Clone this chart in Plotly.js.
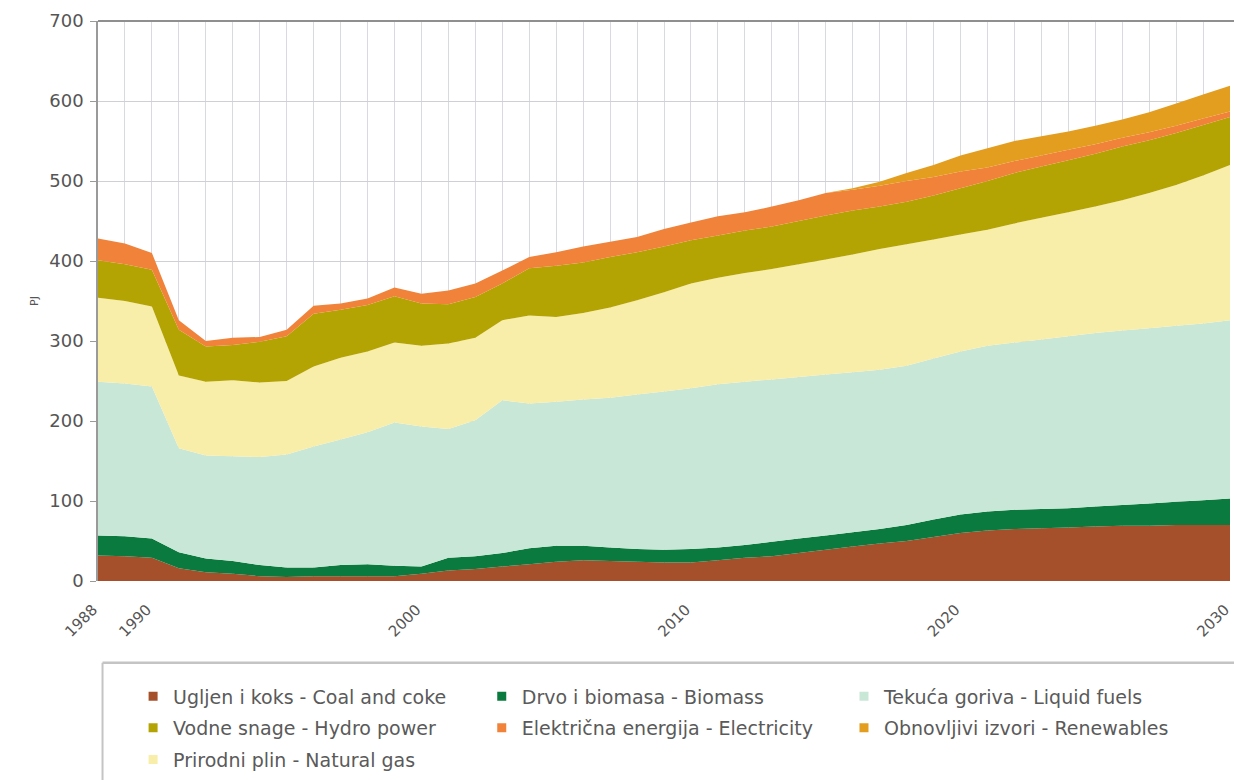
<!DOCTYPE html>
<html>
<head>
<meta charset="utf-8">
<script src="https://cdn.plot.ly/plotly-3.0.1.min.js"></script>
<style>
  html, body { margin: 0; padding: 0; background: #ffffff; }
  #chart { width: 1234px; height: 780px; }
</style>
</head>
<body>
<div id="chart"></div>
<script>
// Final energy demand by source, PJ (stacked, bottom to top)
const years = [1988, 1989, 1990, 1991, 1992, 1993, 1994, 1995, 1996, 1997,
               1998, 1999, 2000, 2001, 2002, 2003, 2004, 2005, 2006, 2007,
               2008, 2009, 2010, 2011, 2012, 2013, 2014, 2015, 2016, 2017,
               2018, 2019, 2020, 2021, 2022, 2023, 2024, 2025, 2026, 2027,
               2028, 2029, 2030];

const coal = [32, 31, 29, 16, 11, 9, 6, 5, 6, 6,
              6, 6, 9, 13, 15, 18, 21, 24, 26, 25,
              24, 23, 23, 26, 29, 31, 35, 39, 43, 47,
              50, 55, 60, 63, 65, 66, 67, 68, 69, 69,
              70, 70, 70];

const biomass = [25, 25, 24, 20, 17, 16, 14, 12, 11, 14,
                 15, 13, 9, 16, 16, 17, 20, 20, 18, 17,
                 16, 16, 17, 16, 16, 18, 18, 18, 18, 18,
                 20, 22, 23, 24, 24, 24, 24, 25, 26, 28,
                 29, 31, 33];

const liquidFuels = [192, 191, 190, 130, 129, 131, 135, 141, 151, 157,
                     165, 179, 175, 161, 170, 191, 181, 180, 183, 187,
                     193, 198, 201, 204, 204, 203, 202, 201, 200, 199,
                     199, 201, 204, 207, 209, 212, 215, 217, 218, 219,
                     220, 221, 223];

const naturalGas = [105, 103, 100, 91, 92, 95, 93, 92, 100, 102,
                    101, 100, 101, 107, 103, 100, 110, 106, 108, 113,
                    118, 124, 131, 133, 136, 138, 141, 144, 147, 151,
                    152, 149, 146, 145, 149, 152, 155, 158, 163, 169,
                    176, 185, 194];

const hydroPower = [47, 46, 46, 57, 44, 44, 51, 56, 66, 60,
                    58, 58, 53, 49, 51, 46, 59, 64, 63, 63,
                    60, 57, 54, 53, 53, 53, 54, 55, 55, 53,
                    53, 55, 58, 61, 63, 64, 65, 66, 67, 66,
                    65, 63, 60];

const electricity = [27, 26, 21, 12, 7, 9, 6, 8, 10, 8,
                     8, 11, 12, 17, 17, 16, 14, 17, 20, 19,
                     19, 22, 22, 24, 23, 25, 26, 28, 26, 26,
                     26, 23, 21, 17, 15, 14, 13, 12, 11, 10,
                     9, 8, 7];

const renewables = [0, 0, 0, 0, 0, 0, 0, 0, 0, 0,
                    0, 0, 0, 0, 0, 0, 0, 0, 0, 0,
                    0, 0, 0, 0, 0, 0, 0, 0, 2, 5,
                    10, 15, 20, 24, 25, 24, 23, 23, 23, 25,
                    28, 30, 32];

const xTickYears = [1988, 1990, 2000, 2010, 2020, 2030];
const xTickText = ['1988', '1990', '2000', '2010', '2020', '2030'];

// Series in stacking order (bottom first)
const seriesNames = [
  'Ugljen i koks - Coal and coke',
  'Drvo i biomasa - Biomass',
  'Tekuća goriva - Liquid fuels',
  'Prirodni plin - Natural gas',
  'Vodne snage - Hydro power',
  'Električna energija - Electricity',
  'Obnovljivi izvori - Renewables'
];
const seriesValues = [coal, biomass, liquidFuels, naturalGas, hydroPower, electricity, renewables];
const seriesColors = ['#a5502b', '#0b7a3e', '#c9e7d6', '#f8eeaa', '#b4a403', '#f0823a', '#e39e1f'];

// Legend layout: which legend box (column) and position in it
const legendColumn = ['legend', 'legend2', 'legend3', 'legend', 'legend', 'legend2', 'legend3'];
const legendRank   = [1, 1, 1, 3, 2, 2, 2];

const traces = [];
seriesValues.forEach((vals, i) => {
  traces.push({
    type: 'scatter',
    x: years,
    y: vals,
    name: seriesNames[i],
    stackgroup: 'energy',
    mode: 'none',
    fillcolor: seriesColors[i],
    line: { width: 0 },
    showlegend: false,
    hoverinfo: 'x+y+name'
  });
});

// Legend entries with small square swatches
seriesNames.forEach((name, i) => {
  traces.push({
    type: 'scatter',
    x: [null],
    y: [null],
    name: name,
    mode: 'markers',
    marker: { symbol: 'square', size: 9, color: seriesColors[i] },
    legend: legendColumn[i],
    legendgroup: 'g' + i,
    legendrank: legendRank[i],
    showlegend: true,
    hoverinfo: 'skip'
  });
});

const legendFont = { family: 'DejaVu Sans, Verdana, sans-serif', size: 19, color: '#5a5a5a' };
const legendBase = {
  orientation: 'v',
  xanchor: 'left',
  yanchor: 'top',
  y: -0.172,
  bgcolor: 'rgba(0,0,0,0)',
  borderwidth: 0,
  font: legendFont,
  tracegroupgap: 4,
  itemclick: false,
  itemdoubleclick: false
};

const layout = {
  width: 1234,
  height: 780,
  margin: { l: 98, r: 4, t: 21, b: 199, pad: 0, autoexpand: false },
  paper_bgcolor: '#ffffff',
  plot_bgcolor: '#ffffff',
  font: { family: 'DejaVu Sans, Verdana, sans-serif', color: '#555555' },
  showlegend: true,
  xaxis: {
    range: [1988, 2030],
    tickmode: 'array',
    tickvals: xTickYears,
    ticktext: xTickText,
    tickangle: -45,
    tickfont: { size: 15, color: '#555555' },
    ticks: '',
    ticklabelstandoff: 16,
    ticklabelshift: -5,
    ticklabeloverflow: 'allow',
    automargin: false,
    showgrid: true,
    gridcolor: '#d9d9e0',
    gridwidth: 1,
    minor: { dtick: 1, tick0: 1988, showgrid: true, gridcolor: '#d9d9e0', gridwidth: 1 },
    showline: false,
    zeroline: false,
    fixedrange: true
  },
  yaxis: {
    range: [0, 700],
    dtick: 100,
    tickfont: { size: 18, color: '#555555' },
    ticks: 'outside',
    ticklen: 6,
    tickcolor: '#9a9a9a',
    ticklabelstandoff: 3,
    automargin: false,
    showgrid: true,
    gridcolor: '#cfcfd4',
    gridwidth: 1,
    showline: true,
    linecolor: '#9a9a9a',
    linewidth: 1.5,
    zeroline: false,
    title: { text: 'PJ', font: { size: 11, color: '#555555' }, standoff: 8 },
    fixedrange: true
  },
  legend: Object.assign({}, legendBase, { x: 0.031 }),
  legend2: Object.assign({}, legendBase, { x: 0.339 }),
  legend3: Object.assign({}, legendBase, { x: 0.659 }),
  shapes: [
    // top border of the plotting area
    { type: 'line', xref: 'paper', yref: 'paper', x0: 0, x1: 1.004, y0: 1, y1: 1,
      line: { color: '#8f8f8f', width: 2 } },
    // frame around the legend
    { type: 'line', xref: 'paper', yref: 'paper', x0: 0.004, x1: 1.004, y0: -0.146, y1: -0.146,
      line: { color: '#c4c4c4', width: 2.5 } },
    { type: 'line', xref: 'paper', yref: 'paper', x0: 0.004, x1: 0.004, y0: -0.146, y1: -0.36,
      line: { color: '#c4c4c4', width: 2 } }
  ]
};

Plotly.newPlot('chart', traces, layout, { displayModeBar: false });
</script>
</body>
</html>
